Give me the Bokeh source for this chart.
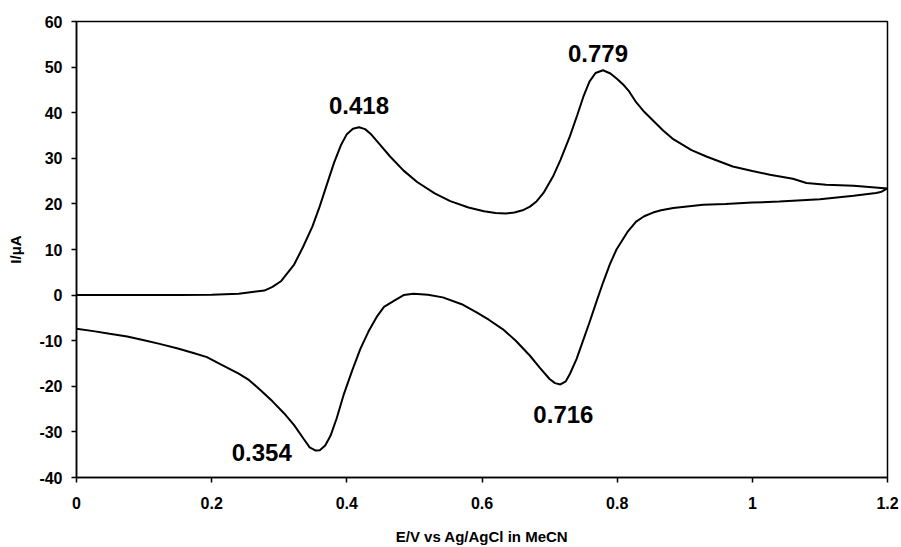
from bokeh.plotting import figure
from bokeh.models import ColumnDataSource, FixedTicker, LabelSet, Range1d, CustomJSTickFormatter
from bokeh.core.properties import value
from bokeh.embed import file_html
from bokeh.resources import INLINE

# ---- data ----
forward_E = [0.0, 0.05, 0.10, 0.15, 0.20, 0.24, 0.26, 0.278, 0.29, 0.303, 0.322, 0.335, 0.349,
             0.360, 0.371, 0.381, 0.391, 0.400, 0.409, 0.418, 0.427, 0.435, 0.449, 0.464, 0.484,
             0.504, 0.530, 0.553, 0.580, 0.603, 0.620, 0.635, 0.648, 0.660, 0.671, 0.681, 0.691,
             0.705, 0.716, 0.730,
             0.741, 0.750, 0.759, 0.768, 0.779, 0.790, 0.800, 0.810, 0.818, 0.828, 0.840, 0.853,
             0.868, 0.883, 0.910, 0.932, 0.971, 1.000, 1.026, 1.060, 1.080, 1.109, 1.150, 1.200]
forward_I = [0.0, 0.0, 0.0, 0.0, 0.1, 0.3, 0.7, 1.0, 1.8, 3.1, 6.7, 10.5, 15.0,
             19.5, 24.5, 29.0, 32.8, 35.3, 36.5, 36.8, 36.4, 35.4, 33.0, 30.4, 27.3,
             24.8, 22.3, 20.6, 19.2, 18.4, 18.0, 17.9, 18.1, 18.6, 19.4, 20.6, 22.4,
             26.0, 29.6, 34.8,
             39.5, 43.5, 46.8, 48.7, 49.3, 48.6, 47.4, 46.0, 44.6, 42.3, 40.2, 38.3,
             36.1, 34.2, 31.8, 30.4, 28.2, 27.2, 26.4, 25.5, 24.6, 24.2, 24.0, 23.4]

reverse_E = [1.200, 1.190, 1.183, 1.150, 1.100, 1.040, 1.000, 0.960, 0.927, 0.900, 0.883, 0.865,
             0.853, 0.840, 0.828, 0.815, 0.799, 0.789, 0.779, 0.769, 0.759, 0.749, 0.740, 0.730,
             0.724, 0.716, 0.708, 0.700, 0.686, 0.671, 0.650, 0.631, 0.610, 0.592, 0.570, 0.542,
             0.520, 0.499, 0.484, 0.469, 0.455, 0.445, 0.432, 0.420, 0.408, 0.395, 0.385, 0.376,
             0.368, 0.360, 0.354, 0.345, 0.336, 0.322, 0.307, 0.290, 0.272, 0.255, 0.240, 0.212,
             0.193, 0.173, 0.150, 0.123, 0.100, 0.075, 0.049, 0.025, 0.0]
reverse_I = [23.4, 22.6, 22.4, 21.8, 21.0, 20.5, 20.3, 20.0, 19.8, 19.4, 19.1, 18.6,
             18.1, 17.3, 16.1, 13.8, 10.0, 6.7, 2.7, -1.6, -6.0, -10.2, -14.0, -17.3,
             -18.9, -19.6, -19.3, -18.4, -16.0, -13.3, -10.0, -7.5, -5.4, -3.8, -2.0, -0.5,
             0.1, 0.3, 0.0, -1.3, -2.6, -4.6, -8.0, -11.8, -16.5, -22.0, -27.0, -30.8,
             -33.0, -34.0, -34.1, -33.4, -31.5, -28.5, -25.9, -23.3, -20.8, -18.6, -17.2, -15.1,
             -13.6, -12.7, -11.7, -10.7, -9.9, -9.1, -8.5, -7.9, -7.4]

peak_E = [0.418, 0.779, 0.354, 0.716]
peak_I = [36.8, 49.3, -34.1, -19.6]
peak_text = ["0.418", "0.779", "0.354", "0.716"]

x_ticks = [0, 0.2, 0.4, 0.6, 0.8, 1.0, 1.2]
y_ticks = [-40, -30, -20, -10, 0, 10, 20, 30, 40, 50, 60]

# ---- styling / placement ----
label_dx = [0, -5, -54, 3]
label_dy = [22, 17, -2, -30]
FONT = "Liberation Sans"

p = figure(width=901, height=547, output_backend="svg", toolbar_location=None,
           x_range=Range1d(0, 1.2), y_range=Range1d(-40, 60),
           min_border_left=76, min_border_right=14, min_border_top=21, min_border_bottom=68)
p.background_fill_color = "white"
p.border_fill_color = "white"
p.outline_line_color = "black"
p.outline_line_width = 1.5
p.xgrid.visible = False
p.ygrid.visible = False

p.line(forward_E + reverse_E, forward_I + reverse_I, line_color="black", line_width=2)

src = ColumnDataSource(dict(x=peak_E, y=peak_I, t=peak_text, dx=label_dx, dy=label_dy))
p.add_layout(LabelSet(x="x", y="y", text="t", source=src, x_offset="dx", y_offset="dy",
                      text_align="center", text_baseline="middle",
                      text_font=value(FONT), text_font_style="bold", text_font_size="24px",
                      text_color="black"))

for ax in (p.xaxis[0], p.yaxis[0]):
    ax.axis_line_color = "black"
    ax.axis_line_width = 1.5
    ax.major_tick_line_color = "black"
    ax.major_tick_line_width = 1.5
    ax.major_tick_in = 0
    ax.major_tick_out = 5
    ax.minor_tick_line_color = None
    ax.major_label_text_font = FONT
    ax.major_label_text_font_style = "bold"
    ax.major_label_text_font_size = "16px"
    ax.major_label_text_color = "black"
    ax.axis_label_text_font = FONT
    ax.axis_label_text_font_style = "bold"
    ax.axis_label_text_font_size = "15px"
    ax.axis_label_text_color = "black"

p.xaxis.ticker = FixedTicker(ticks=x_ticks)
p.xaxis.formatter = CustomJSTickFormatter(code="return String(Math.round(tick * 10) / 10);")
p.xaxis.major_label_standoff = 14
p.xaxis.axis_label = "E/V vs Ag/AgCl in MeCN"
p.xaxis.axis_label_standoff = 16

p.yaxis.ticker = FixedTicker(ticks=y_ticks)
p.yaxis.formatter = CustomJSTickFormatter(code="return String(Math.round(tick));")
p.yaxis.major_label_standoff = 9
p.yaxis.axis_label = "I/μA"
p.yaxis.axis_label_standoff = 12

open("out.html", "w").write(file_html(p, INLINE))
